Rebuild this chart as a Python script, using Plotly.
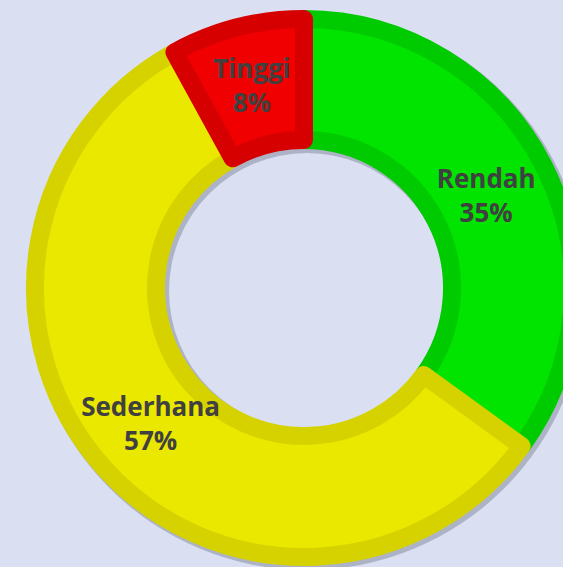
import plotly.graph_objects as go

# Data
labels = ["Rendah", "Sederhana", "Tinggi"]
values = [35, 57, 8]
fill_colors = ["#00e400", "#ebe800", "#f00000"]
border_colors = ["#00ca00", "#d6d200", "#d60000"]

BG = "#dae0f1"
W, H = 620, 600
CX, CY = 304, 288          # centre in px (from top-left)
R_OUT, R_IN = 278, 139     # visible ring radii
B = 9                      # inset border width
FONT = dict(family="Open Sans", size=26, color="#404040")
TPL = "<b>%{label}<br>%{percent:.0%}</b>"

r_pie = R_OUT - B
hole = (R_IN + B) / r_pie

def domain(cx, cy, r):
    cyb = H - cy
    return dict(x=[(cx - r) / W, (cx + r) / W], y=[(cyb - r) / H, (cyb + r) / H])

fig = go.Figure()

# soft shadow ring
fig.add_trace(go.Pie(
    values=[sum(values)],
    hole=(R_IN - 1) / (R_OUT + 1),
    domain=domain(CX + 3, CY + 3, R_OUT + 1),
    marker=dict(colors=["rgba(70,75,100,0.30)"], line=dict(width=0)),
    textinfo="none", hoverinfo="skip", showlegend=False, sort=False,
))

# the doughnut itself
fig.add_trace(go.Pie(
    labels=labels,
    values=values,
    hole=hole,
    sort=False,
    direction="clockwise",
    rotation=0,
    domain=domain(CX, CY, r_pie),
    marker=dict(colors=fill_colors, line=dict(color=border_colors, width=2 * B)),
    textinfo="none",
    showlegend=False,
))

# transparent twin pies that only carry the labels (horizontal, centred in slices)
clear = ["rgba(0,0,0,0)"] * len(values)
big = [i for i, v in enumerate(values) if v >= 20]
t1 = [TPL if i in big else "" for i in range(len(values))]
t2 = ["" if i in big else TPL for i in range(len(values))]

R_T1 = 288
fig.add_trace(go.Pie(
    labels=labels, values=values, sort=False, direction="clockwise", rotation=0,
    hole=0.42, domain=domain(CX, CY, R_T1),
    marker=dict(colors=clear, line=dict(width=0)),
    texttemplate=t1, textposition="inside", insidetextorientation="horizontal",
    insidetextfont=FONT, hoverinfo="skip", showlegend=False,
))

R_T2 = 262
fig.add_trace(go.Pie(
    labels=labels, values=values, sort=False, direction="clockwise", rotation=0,
    hole=0.3, domain=domain(CX, CY, R_T2),
    marker=dict(colors=clear, line=dict(width=0)),
    texttemplate=t2, textposition="inside", insidetextorientation="horizontal",
    insidetextfont=FONT, hoverinfo="skip", showlegend=False,
))

fig.update_layout(
    width=W, height=H,
    margin=dict(l=0, r=0, t=0, b=0),
    paper_bgcolor=BG, plot_bgcolor=BG,
    showlegend=False,
)

fig.write_html(
    "out.html",
    post_script="document.body.style.margin='0';document.body.style.overflow='hidden';document.documentElement.style.overflow='hidden';",
)
